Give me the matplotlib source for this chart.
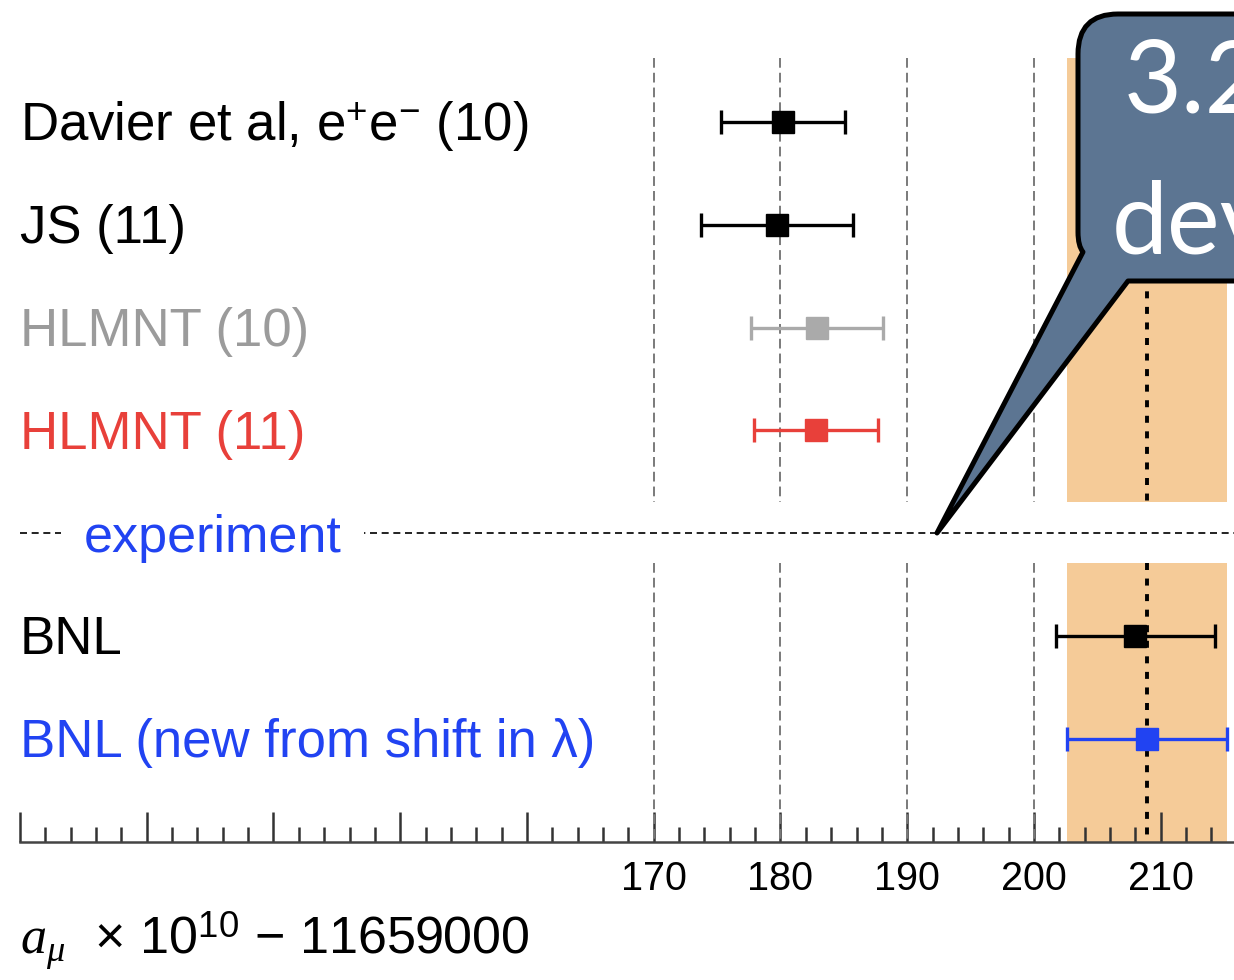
import numpy as np
import matplotlib
matplotlib.use("Agg")
from matplotlib import pyplot as plt
from matplotlib.path import Path
from matplotlib.patches import PathPatch
from matplotlib.ticker import FixedLocator, FixedFormatter, MultipleLocator

plt.rcParams['font.family'] = ['Liberation Sans', 'DejaVu Sans']
plt.rcParams['mathtext.fontset'] = 'custom'
plt.rcParams['mathtext.rm'] = 'Liberation Sans'
plt.rcParams['mathtext.sf'] = 'Liberation Sans'
plt.rcParams['mathtext.it'] = 'Liberation Serif:italic'

# a_mu x 1e10 - 11659000 for each determination
labels = ["Davier et al, e$^{+}$e$^{-}$ (10)", "JS (11)", "HLMNT (10)",
          "HLMNT (11)", "BNL", "BNL (new from shift in λ)"]
values = [180.2, 179.7, 182.9, 182.8, 208.0, 208.9]
errors = [4.9, 6.0, 5.2, 4.9, 6.3, 6.3]
rows = [0, 1, 2, 3, 5, 6]
point_colors = ['black', 'black', '#aaaaaa', '#e8403a', 'black', '#2143f2']
text_colors = ['black', 'black', '#9b9b9b', '#e8403a', 'black', '#2143f2']

exp_row = 4
exp_label = "experiment"
band_center = 208.9
band_err = 6.3
grid_x = [170, 180, 190, 200]
major_ticks = [120, 130, 140, 150, 160, 170, 180, 190, 200, 210]
tick_text = ['', '', '', '', '', '170', '180', '190', '200', '210']

W, H = 1234, 980
fig = plt.figure(figsize=(W / 100, H / 100), dpi=100)
ax = fig.add_axes([20 / W, 138 / H, 1214 / W, 842 / H])
ax.set_xlim(120, 215.78)
ax.set_ylim(7.006, -1.187)

# vertical extent of the band / guide lines, broken around the experiment row
seg_top, gap_lo, gap_hi, seg_bot = -0.62, 3.70, 4.29, 7.006
for y0, y1 in [(seg_top, gap_lo), (gap_hi, seg_bot)]:
    ax.fill_betweenx([y0, y1], band_center - band_err, band_center + band_err,
                     color='#f5cb98', lw=0, zorder=1)
    ax.vlines(grid_x, y0, y1, colors='#7a7a7a', lw=1.4,
              linestyles=(0, (5, 2.6)), zorder=2)
    ax.vlines(band_center, y0, y1, colors='black', lw=2.8,
              linestyles=(0, (1.8, 2.2)), zorder=3)

# experiment separator
ax.axhline(exp_row, color='#222222', lw=1.4, ls=(0, (3.6, 2.4)), zorder=2)
ax.text(125.0, exp_row + 0.18, exp_label, color='#2143f2', fontsize=37.5,
        va='baseline', ha='left', zorder=4,
        bbox=dict(fc='white', ec='none', pad=16))

for lab, v, e, r, pc, tc in zip(labels, values, errors, rows, point_colors, text_colors):
    ax.errorbar(v, r, xerr=e, fmt='s', color=pc, ms=16, elinewidth=2.4,
                capsize=8.5, capthick=2.4, zorder=5)
    ax.text(120.0, r + 0.18, lab, color=tc, fontsize=38, va='baseline', ha='left')

for s in ['top', 'left', 'right']:
    ax.spines[s].set_visible(False)
ax.spines['bottom'].set_color('#444444')
ax.spines['bottom'].set_linewidth(1.8)
ax.yaxis.set_visible(False)
ax.xaxis.set_major_locator(FixedLocator(major_ticks))
ax.xaxis.set_major_formatter(FixedFormatter(tick_text))
ax.xaxis.set_minor_locator(MultipleLocator(2))
ax.tick_params(axis='x', which='major', direction='in', length=21.6, width=1.8,
               color='#333333', labelsize=28.5, pad=13)
ax.tick_params(axis='x', which='minor', direction='in', length=10.8, width=1.8,
               color='#333333')

fig.text(20 / W, 1 - 955 / H, r"$a_{\mu}$  × 10$^{10}$ − 11659000", fontsize=37.5,
         va='baseline', ha='left')


# speech-bubble callout, laid out in pixel units
def px(x, y):
    return (x / W, 1 - y / H)


verts = [px(1078, 54), px(1078, 232), px(1078, 246), px(1083, 252),
         px(937, 533), px(1128, 281), px(1600, 281), px(1600, 14),
         px(1118, 14), px(1078, 14), px(1078, 54), px(1078, 54)]
codes = [Path.MOVETO, Path.LINETO, Path.CURVE3, Path.CURVE3,
         Path.LINETO, Path.LINETO, Path.LINETO, Path.LINETO,
         Path.LINETO, Path.CURVE3, Path.CURVE3, Path.CLOSEPOLY]
bubble = PathPatch(Path(verts, codes), transform=fig.transFigure,
                   fc='#5c7592', ec='black', lw=3.6, joinstyle='round', zorder=10)
fig.add_artist(bubble)
fig.text(*px(1124, 113), "3.2σ", color='white', fontsize=72,
         family=['Lato', 'DejaVu Sans'], va='baseline', ha='left', zorder=11)
fig.text(*px(1112, 253), "deviation", color='white', fontsize=72,
         family=['Lato', 'DejaVu Sans'], va='baseline', ha='left', zorder=11)

fig.savefig('out.png', dpi=100)
